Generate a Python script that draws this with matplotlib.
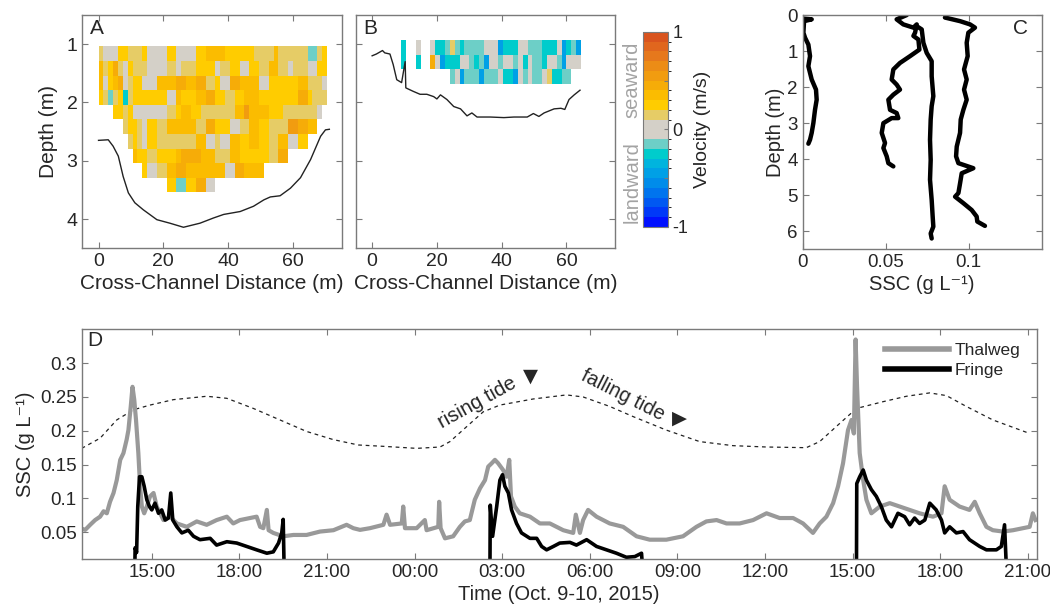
import numpy as np
import matplotlib.pyplot as plt
from matplotlib.colors import ListedColormap, BoundaryNorm
from matplotlib.lines import Line2D

plt.rcParams['font.family'] = ['Liberation Sans', 'DejaVu Sans']
plt.rcParams['text.color'] = '#262626'
plt.rcParams['axes.labelcolor'] = '#262626'
plt.rcParams['axes.unicode_minus'] = False

# ---- velocity grids (one char per 1.5 m bin, '.' = no data) ----
vel_code = {'O': 0.55, 'o': 0.45, 'Y': 0.35, 'y': 0.25, 'k': 0.15, 'g': 0.05,
            't': -0.15, 'c': -0.25, 'b': -0.45}
bin_width = 1.5

a_rows = [
    "kgggyykkkyggggyyggggyyYY" + "YYyyyyyykkkkYkkkkkkttky",
    "Ykyokgykkkggggkkgkkkyyyy" + "gkkyyggyykkYYkkgkkkggyy",
    "YgyYogkyygggYYYYooYYookk" + "yggooYYYYggyyyyyyYYkkkg",
    "yktkyckyyyyyyyggYyyyYYoo" + "yykkyyYYYyyyyyyyyooykkk",
    "...yykygggggggkkyYYyykkk" + "kkkkYYOYYYYyyykkkkkkkg.",
    ".....kyykgyykkYYYYYYkkoo" + "yyyggkkYYyykkkkOOooYY..",
    "......kykgyykkkkkkkkYYgg" + "kggYYyyYYyykkYYggyy....",
    ".......YyykkyyyyYooooYYY" + "kkkYYyyyyyykkoo........",
    ".........yggkkYYooYYYYYY" + "YYggooYYYY.............",
    "..............yyttyyoogg" + ".......................",
]
a_top = 1.04

b_rows = [
    "......c..g..gcctktcttttgggbcccggtttcccgbctb....",
    "......c..c..ogbcccggtctbggtggtgcgttcggtbggg....",
    "................tgbtttbtttgccbgtgttgkcctt......",
]
b_top = 0.93
row_height = 0.25

# ---- channel bed profiles ----
bed_a_x = [0, 3, 4.5, 6.1, 7.6, 9.2, 11.2, 13.8, 18, 22, 26.2, 31.3, 35.5, 38.6,
           43.7, 47.8, 51, 53, 56, 59.2, 62.3, 65.4, 68.5, 70, 71.2]
bed_a_z = [2.65, 2.64, 2.75, 2.92, 3.27, 3.55, 3.72, 3.84, 4.01, 4.07, 4.14, 4.07,
           3.98, 3.92, 3.87, 3.78, 3.67, 3.62, 3.60, 3.47, 3.29, 2.98, 2.58, 2.47, 2.46]

bed_b_x = [0, 1.3, 3.2, 3.9, 5.5, 6.5, 7.6, 9.1, 10.2, 10.4, 12.7, 14.8, 16.9, 19,
           20, 21.1, 23.1, 25.2, 27.3, 29.3, 30.8, 32.4, 36.5, 40.7, 43.8, 47.9,
           49.8, 51.5, 53.1, 56.2, 58.3, 59.5, 60.8, 62.4, 64.2]
bed_b_z = [1.20, 1.17, 1.11, 1.15, 1.17, 1.35, 1.61, 1.66, 1.30, 1.75, 1.81, 1.86,
           1.86, 1.90, 1.94, 1.87, 1.95, 2.07, 2.11, 2.23, 2.18, 2.25, 2.25, 2.26,
           2.25, 2.25, 2.19, 2.24, 2.18, 2.11, 2.10, 2.12, 1.95, 1.87, 1.79]

# ---- SSC depth profiles (panel C) ----
prof1_ssc = [0.0004, 0.0054, 0.0008, 0.0004, 0.0014, 0.0034, 0.0044, 0.0034, 0.0054,
             0.0080, 0.0084, 0.0074, 0.0064, 0.0054, 0.0044, 0.0034]
prof1_z = [0.10, 0.12, 0.17, 0.49, 0.63, 0.82, 1.14, 1.42, 1.79, 2.07, 2.35, 2.63,
           3.00, 3.27, 3.46, 3.57]
prof2_ssc = [0.0627, 0.0566, 0.0606, 0.0667, 0.0687, 0.0677, 0.0667, 0.0697, 0.0703,
             0.0647, 0.0586, 0.0546, 0.0536, 0.0566, 0.0586, 0.0546, 0.0516, 0.0526,
             0.0566, 0.0576, 0.0536, 0.0486, 0.0476, 0.0496, 0.0486, 0.0506, 0.0516,
             0.0546]
prof2_z = [0.0, 0.12, 0.26, 0.35, 0.26, 0.49, 0.58, 0.68, 0.96, 1.14, 1.33, 1.51,
           1.79, 1.93, 2.07, 2.21, 2.35, 2.63, 2.72, 2.86, 2.86, 3.00, 3.27, 3.55,
           3.69, 3.92, 4.11, 4.20]
prof3_ssc = [0.0687, 0.0717, 0.0727, 0.0747, 0.0777, 0.0777, 0.0787, 0.0777, 0.0771,
             0.0767, 0.0771, 0.0767, 0.0777, 0.0783, 0.0787, 0.0771, 0.0777]
prof3_z = [0.31, 0.40, 0.77, 1.05, 1.28, 1.70, 2.25, 2.53, 2.90, 3.46, 4.02, 4.57,
           5.13, 5.59, 5.87, 6.06, 6.20]
prof4_ssc = [0.0857, 0.0948, 0.1008, 0.1038, 0.0998, 0.0988, 0.0994, 0.0972, 0.0988,
             0.0972, 0.0988, 0.0968, 0.0952, 0.0948, 0.0928, 0.0924, 0.0938, 0.1028,
             0.0958, 0.0948, 0.0938, 0.0918, 0.0968, 0.1018, 0.1048, 0.1052, 0.1098]
prof4_z = [0.07, 0.17, 0.26, 0.35, 0.49, 0.77, 1.14, 1.51, 1.79, 2.07, 2.35, 2.63,
           2.90, 3.27, 3.65, 3.92, 4.11, 4.25, 4.39, 4.67, 4.94, 5.04, 5.22, 5.41,
           5.59, 5.73, 5.85]

# ---- time series (panel D), hours from Oct 9 00:00 ----
tide_h = [12.6, 13.23, 13.8, 14.37, 14.94, 15.74, 16.88, 17.57, 18.48, 19.39, 20.3,
          21.21, 22.07, 22.93, 24.07, 24.87, 25.21, 25.78, 26.35, 26.92, 28.06, 29.2,
          29.77, 30.68, 31.48, 32.62, 33.76, 34.9, 36.05, 37.41, 37.87, 38.56, 39.13,
          40.04, 40.84, 41.64, 42.21, 42.89, 43.8, 45.06]
tide_y = [0.174, 0.189, 0.216, 0.231, 0.238, 0.246, 0.251, 0.248, 0.233, 0.216, 0.199,
          0.187, 0.179, 0.177, 0.174, 0.176, 0.184, 0.206, 0.228, 0.238, 0.247, 0.253,
          0.250, 0.236, 0.221, 0.201, 0.184, 0.178, 0.176, 0.175, 0.184, 0.211, 0.233,
          0.243, 0.251, 0.256, 0.252, 0.236, 0.216, 0.196]

thal_h = [12.62, 12.72, 12.89, 13.06, 13.23, 13.35, 13.46, 13.57, 13.69, 13.8, 13.92,
          14.03, 14.14, 14.2, 14.28, 14.34, 14.4, 14.46, 14.54, 14.6, 14.66, 14.74,
          14.83, 14.94, 15.06, 15.17, 15.4, 15.63, 15.86, 16.2, 16.54, 16.88, 17.22,
          17.57, 17.79, 18.02, 18.37, 18.59, 18.71, 18.82, 18.94, 19.0, 19.16, 19.5,
          19.85, 20.3, 20.76, 21.22, 21.67, 21.9, 22.13, 22.47, 22.93, 23.04, 23.16,
          23.56, 23.61, 23.67, 24.07, 24.35, 24.41, 24.81, 24.84, 24.89, 25.04, 25.32,
          25.55, 25.72, 25.89, 26.06, 26.24, 26.41, 26.52, 26.64, 26.75, 26.86, 27.03,
          27.15, 27.24, 27.3, 27.43, 27.6, 27.95, 28.29, 28.63, 29.09, 29.43, 29.52,
          29.66, 29.77, 29.94, 30.23, 30.68, 31.14, 31.6, 32.05, 32.62, 33.19, 33.65,
          33.99, 34.34, 34.68, 35.13, 35.59, 36.05, 36.5, 36.96, 37.3, 37.64, 37.87,
          38.1, 38.33, 38.5, 38.67, 38.84, 38.96, 39.04, 39.1, 39.15, 39.24, 39.36,
          39.47, 39.64, 39.93, 40.27, 40.61, 40.95, 41.29, 41.75, 42.04, 42.15, 42.32,
          42.66, 43.0, 43.18, 43.35, 43.58, 43.8, 44.15, 44.49, 44.83, 45.06, 45.17,
          45.26]
thal_ssc = [0.055, 0.0535, 0.061, 0.068, 0.073, 0.081, 0.078, 0.095, 0.108, 0.127,
            0.157, 0.167, 0.187, 0.201, 0.236, 0.265, 0.246, 0.216, 0.167, 0.118,
            0.088, 0.078, 0.088, 0.103, 0.108, 0.088, 0.068, 0.073, 0.063, 0.058,
            0.066, 0.061, 0.068, 0.073, 0.063, 0.068, 0.071, 0.073, 0.058, 0.056,
            0.083, 0.053, 0.049, 0.044, 0.046, 0.046, 0.051, 0.053, 0.061, 0.056,
            0.0535, 0.056, 0.061, 0.076, 0.061, 0.063, 0.088, 0.056, 0.056, 0.068,
            0.053, 0.058, 0.095, 0.056, 0.041, 0.044, 0.058, 0.066, 0.068, 0.098,
            0.115, 0.127, 0.147, 0.152, 0.157, 0.152, 0.142, 0.132, 0.157, 0.103,
            0.088, 0.078, 0.073, 0.063, 0.063, 0.053, 0.049, 0.076, 0.049, 0.068,
            0.083, 0.073, 0.063, 0.058, 0.044, 0.039, 0.039, 0.044, 0.058, 0.066,
            0.068, 0.063, 0.063, 0.068, 0.078, 0.071, 0.071, 0.063, 0.049, 0.063,
            0.073, 0.093, 0.118, 0.152, 0.201, 0.216, 0.196, 0.335, 0.265, 0.167,
            0.127, 0.098, 0.078, 0.088, 0.093, 0.088, 0.083, 0.078, 0.073, 0.078,
            0.118, 0.098, 0.088, 0.083, 0.095, 0.078, 0.058, 0.053, 0.051, 0.053,
            0.056, 0.058, 0.078, 0.068]

nan = np.nan
fringe_h = [14.42, 14.43, 14.48, 14.52, 14.58, 14.66, 14.74, 14.83, 14.92, 15.0, 15.11,
            15.23, 15.34, 15.46, 15.57, 15.65, 15.72, 15.86, 16.03, 16.25, 16.43, 16.65,
            17.0, 17.22, 17.57, 17.91, 18.25, 18.59, 18.94, 19.16, 19.34, 19.45, 19.5,
            19.53, nan,
            26.58, 26.59, 26.67, 26.81, 26.92, 27.01, 27.09, 27.21, 27.32, 27.49, 27.66,
            27.95, 28.18, 28.35, 28.52, 28.75, 28.97, 29.32, 29.54, 29.89, 30.23, 30.57,
            30.91, 31.25, 31.54, 31.77, 31.8, nan,
            39.13, 39.14, 39.24, 39.36, 39.47, 39.64, 39.81, 39.98, 40.15, 40.33, 40.55,
            40.78, 40.95, 41.12, 41.29, 41.47, 41.64, 41.86, 42.04, 42.15, 42.32, 42.55,
            42.78, 43.0, 43.35, 43.58, 43.92, 44.09, 44.2, 44.26]
fringe_ssc = [0.0, 0.027, 0.02, 0.088, 0.132, 0.132, 0.118, 0.098, 0.088, 0.083, 0.093,
              0.078, 0.083, 0.068, 0.071, 0.108, 0.068, 0.058, 0.049, 0.053, 0.044, 0.039,
              0.041, 0.031, 0.036, 0.034, 0.029, 0.024, 0.019, 0.021, 0.034, 0.049, 0.069,
              0.0, nan,
              0.0, 0.09, 0.044, 0.088, 0.127, 0.135, 0.118, 0.108, 0.083, 0.063, 0.049,
              0.041, 0.041, 0.029, 0.024, 0.029, 0.034, 0.035, 0.031, 0.039, 0.029, 0.024,
              0.019, 0.013, 0.014, 0.019, 0.0, nan,
              0.0, 0.122, 0.132, 0.142, 0.127, 0.113, 0.103, 0.088, 0.068, 0.058, 0.078,
              0.073, 0.061, 0.071, 0.063, 0.068, 0.093, 0.083, 0.068, 0.049, 0.058, 0.049,
              0.051, 0.039, 0.029, 0.024, 0.024, 0.029, 0.061, 0.0]

time_ticks = [15, 18, 21, 24, 27, 30, 33, 36, 39, 42, 45]
time_labels = ['15:00', '18:00', '21:00', '00:00', '03:00', '06:00', '09:00',
               '12:00', '15:00', '18:00', '21:00']

# colormap: 20 bins from -1 to 1, light teal just below the two gray bins
cmap = ListedColormap(['#0010FF', '#0038F8', '#0058F2', '#0074EE', '#008CEA',
                       '#00A0E6', '#00B4DE', '#00CCCC', '#6DCFC7', '#D4D0C8',
                       '#D4D0C8', '#E6CC66', '#FFCC00', '#FBBC00', '#F6AC08',
                       '#F19C10', '#EC8C16', '#E6781C', '#E0661E', '#D9541E'])
norm = BoundaryNorm(np.linspace(-1, 1, 21), cmap.N)

ssc_label = 'SSC (g L\u207B\u00B9)'


def decode(rows):
    grid = np.array([[vel_code.get(ch, np.nan) for ch in r] for r in rows])
    return np.ma.masked_invalid(grid)


spine_col = '#7a7a7a'
txt_col = '#262626'


def style(ax, size=13.5):
    for s in ax.spines.values():
        s.set_color(spine_col)
        s.set_linewidth(1.0)
    ax.tick_params(direction='in', top=True, right=True, length=4, width=0.8,
                   color=spine_col, labelcolor=txt_col, labelsize=size)


fig = plt.figure(figsize=(10.5, 6.13), dpi=100)

# ---------------- A ----------------
ax_a = fig.add_axes([0.0784, 0.595, 0.247, 0.3806])
grid_a = decode(a_rows)
xe = np.arange(grid_a.shape[1] + 1) * bin_width
ye = a_top + np.arange(grid_a.shape[0] + 1) * row_height
pm = ax_a.pcolormesh(xe, ye, grid_a, cmap=cmap, norm=norm)
ax_a.plot(bed_a_x, bed_a_z, color='#222222', lw=1.0)
ax_a.set_xlim(-5, 75)
ax_a.set_ylim(4.5, 0.5)
ax_a.set_xticks([0, 20, 40, 60])
ax_a.set_yticks([1, 2, 3, 4])
ax_a.set_xlabel('Cross-Channel Distance (m)', fontsize=15, labelpad=3)
ax_a.set_ylabel('Depth (m)', fontsize=15, labelpad=6)
ax_a.text(0.057, 0.94, 'A', transform=ax_a.transAxes, fontsize=15,
          ha='center', va='center')
style(ax_a, 14)

# ---------------- B ----------------
ax_b = fig.add_axes([0.339, 0.595, 0.2467, 0.3806])
grid_b = decode(b_rows)
xe_b = np.arange(grid_b.shape[1] + 1) * bin_width
ye_b = b_top + np.arange(grid_b.shape[0] + 1) * row_height
ax_b.pcolormesh(xe_b, ye_b, grid_b, cmap=cmap, norm=norm)
ax_b.plot(bed_b_x, bed_b_z, color='#222222', lw=1.0)
ax_b.set_xlim(-5, 75)
ax_b.set_ylim(4.5, 0.5)
ax_b.set_xticks([0, 20, 40, 60])
ax_b.set_yticks([1, 2, 3, 4])
ax_b.set_yticklabels([])
ax_b.set_xlabel('Cross-Channel Distance (m)', fontsize=15, labelpad=3)
ax_b.text(0.054, 0.94, 'B', transform=ax_b.transAxes, fontsize=15,
          ha='center', va='center')
style(ax_b, 14)

# colorbar
cax = fig.add_axes([0.612, 0.630, 0.0244, 0.318])
cb = fig.colorbar(pm, cax=cax)
cb.set_ticks([-1, -0.5, 0, 0.5, 1])
cb.set_ticklabels(['-1', '', '0', '', '1'])
cb.outline.set_edgecolor(spine_col)
cb.ax.tick_params(direction='in', length=3, color=spine_col, labelsize=13,
                  labelcolor=txt_col, pad=3)
cb.set_label('Velocity (m/s)', fontsize=14, labelpad=4)
fig.text(0.602, 0.869, 'seaward', rotation=90, color='#a3a3a3', fontsize=14.5,
         ha='center', va='center')
fig.text(0.602, 0.703, 'landward', rotation=90, color='#a3a3a3', fontsize=14.5,
         ha='center', va='center')

# ---------------- C ----------------
ax_c = fig.add_axes([0.7645, 0.5933, 0.2276, 0.3822])
for s, z in [(prof1_ssc, prof1_z), (prof2_ssc, prof2_z),
             (prof3_ssc, prof3_z), (prof4_ssc, prof4_z)]:
    ax_c.plot(s, z, color='black', lw=3.2, solid_joinstyle='round',
              solid_capstyle='round')
ax_c.set_xlim(0, 0.144)
ax_c.set_ylim(6.5, 0)
ax_c.set_xticks([0, 0.05, 0.1])
ax_c.set_xticklabels(['0', '0.05', '0.1'])
ax_c.set_yticks(range(7))
ax_c.set_xlabel(ssc_label, fontsize=14.5, labelpad=3)
ax_c.set_ylabel('Depth (m)', fontsize=14.5, labelpad=2)
ax_c.text(0.91, 0.944, 'C', transform=ax_c.transAxes, fontsize=15,
          ha='center', va='center')
style(ax_c, 13.5)

# ---------------- D ----------------
ax_d = fig.add_axes([0.0778, 0.0876, 0.9095, 0.3752])
ax_d.plot(tide_h, tide_y, color='#222222', lw=0.9, ls=(0, (3, 3)))
ax_d.plot(thal_h, thal_ssc, color='#999999', lw=3.0, solid_joinstyle='round')
ax_d.plot(fringe_h, fringe_ssc, color='black', lw=2.6, solid_joinstyle='round')
ax_d.set_xlim(12.6, 45.3)
ax_d.set_ylim(0.01, 0.35)
ax_d.set_xticks(time_ticks)
ax_d.set_xticklabels(time_labels)
ax_d.set_yticks([0.05, 0.1, 0.15, 0.2, 0.25, 0.3])
ax_d.set_yticklabels(['0.05', '0.1', '0.15', '0.2', '0.25', '0.3'])
ax_d.set_xlabel('Time (Oct. 9-10, 2015)', fontsize=14.5, labelpad=3)
ax_d.set_ylabel(ssc_label, fontsize=14.5, labelpad=4)
ax_d.text(0.014, 0.953, 'D', transform=ax_d.transAxes, fontsize=15,
          ha='center', va='center')
ax_d.text(26.13, 0.241, 'rising tide', rotation=29, fontsize=14.5,
          ha='center', va='center')
ax_d.text(27.95, 0.281, '\u25BC', fontsize=14, family='DejaVu Sans',
          ha='center', va='center')
ax_d.text(31.13, 0.252, 'falling tide', rotation=-27, fontsize=14.5,
          ha='center', va='center')
ax_d.text(33.08, 0.219, '\u25B6', fontsize=14, family='DejaVu Sans',
          ha='center', va='center')
handles = [Line2D([], [], color='#999999', lw=4),
           Line2D([], [], color='black', lw=4)]
ax_d.legend(handles, ['Thalweg', 'Fringe'], loc='upper left',
            bbox_to_anchor=(0.841, 0.94), frameon=False, fontsize=12.5,
            handlelength=3.7, handletextpad=0.3, labelspacing=0.25,
            borderpad=0, borderaxespad=0)
style(ax_d, 13.5)

fig.savefig('out.png', dpi=100)
